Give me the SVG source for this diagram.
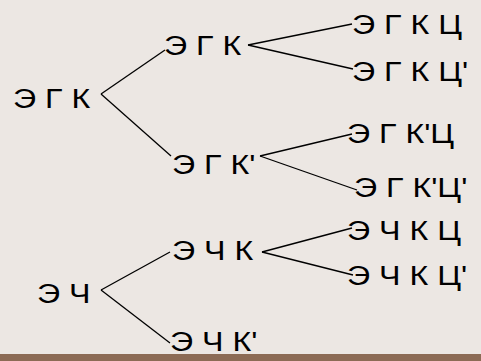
<svg xmlns="http://www.w3.org/2000/svg" width="481" height="361" viewBox="0 0 481 361">
  <style>
    .lbl { font-family: "Liberation Sans", Arial, sans-serif; font-size: 28px; fill: #000; letter-spacing: 0px; }
    .edge { stroke: #000; stroke-width: 1.3; fill: none; }
  </style>
  <rect x="0" y="0" width="481" height="361" fill="#ece7e3"/>

  <!-- connectors of the branching tree -->
  <g id="connectors">
    <line class="edge" x1="101" y1="94" x2="165" y2="50"/>
    <line class="edge" x1="101" y1="94" x2="171" y2="156"/>
    <line class="edge" x1="248" y1="45" x2="352" y2="24"/>
    <line class="edge" x1="248" y1="45" x2="353" y2="69"/>
    <line class="edge" x1="260" y1="156" x2="352" y2="134"/>
    <line class="edge" x1="260" y1="156" x2="357" y2="190"/>
    <line class="edge" x1="101" y1="290" x2="170" y2="252"/>
    <line class="edge" x1="101" y1="290" x2="170" y2="343"/>
    <line class="edge" x1="262" y1="252" x2="352" y2="228"/>
    <line class="edge" x1="262" y1="252" x2="353" y2="275"/>
  </g>

  <!-- labels, widened horizontally -->
  <g id="n-egk"><text class="lbl" transform="translate(13,108) scale(1.15,1)">Э Г К</text></g>
  <g id="n-egk-1"><text class="lbl" transform="translate(164,55) scale(1.15,1)">Э Г К</text></g>
  <g id="n-egk-2"><text class="lbl" transform="translate(172,174) scale(1.15,1)">Э Г К'</text></g>
  <g id="n-egkc"><text class="lbl" transform="translate(352,34) scale(1.15,1)">Э Г К Ц</text></g>
  <g id="n-egkc2"><text class="lbl" transform="translate(352,81) scale(1.15,1)">Э Г К Ц'</text></g>
  <g id="n-egk2c"><text class="lbl" transform="translate(347,143) scale(1.15,1)">Э Г К'Ц</text></g>
  <g id="n-egk2c2"><text class="lbl" transform="translate(354,197) scale(1.15,1)">Э Г К'Ц'</text></g>
  <g id="n-ech"><text class="lbl" transform="translate(37,303) scale(1.15,1)">Э Ч</text></g>
  <g id="n-echk"><text class="lbl" transform="translate(172,260) scale(1.15,1)">Э Ч К</text></g>
  <g id="n-echkc"><text class="lbl" transform="translate(347,240) scale(1.15,1)">Э Ч К Ц</text></g>
  <g id="n-echkc2"><text class="lbl" transform="translate(347,285) scale(1.15,1)">Э Ч К Ц'</text></g>
  <g id="n-echk2"><text class="lbl" transform="translate(170,351) scale(1.15,1)">Э Ч К'</text></g>

  <!-- footer band -->
  <rect x="0" y="354" width="481" height="7" fill="#8c6b55"/>
</svg>
